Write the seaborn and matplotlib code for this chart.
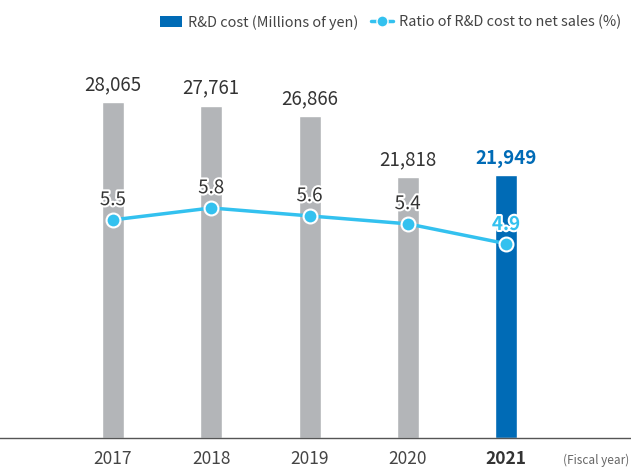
import numpy as np
import pandas as pd
import seaborn as sns
import matplotlib.pyplot as plt
import matplotlib.patheffects as pe
from matplotlib.lines import Line2D
from matplotlib.patches import Patch

years = ["2017", "2018", "2019", "2020", "2021"]
rd_cost = [28065, 27761, 26866, 21818, 21949]
rd_ratio = [5.5, 5.8, 5.6, 5.4, 4.9]

GRAY = "#b3b5b8"
BLUE = "#006bb6"
CYAN = "#33c1ef"
TEXT = "#333333"

sns.set_style("white")
plt.rcParams['font.family'] = ['Noto Sans CJK JP', 'DejaVu Sans']

df = pd.DataFrame({"year": years, "cost": rd_cost, "ratio": rd_ratio})

fig = plt.figure(figsize=(6.31, 4.68), dpi=100)
ax = fig.add_axes([0, 30 / 468, 1, 398 / 468])

colors = [GRAY] * (len(years) - 1) + [BLUE]
sns.barplot(data=df, x="year", y="cost", hue="year", palette=colors,
            width=0.224, legend=False, ax=ax, saturation=1)

ax.set_ylim(0, 33250)

for i, v in enumerate(rd_cost):
    last = i == len(years) - 1
    ax.annotate(f"{v:,}", (i, v), xytext=(0, 5), textcoords="offset points",
                ha="center", va="bottom", fontsize=13.5,
                color=BLUE if last else TEXT,
                fontweight="bold" if last else "normal")

ax2 = ax.twinx()
x_pos = np.arange(len(years))
sns.lineplot(x=x_pos, y=rd_ratio, ax=ax2, color=CYAN, linewidth=2.5,
             marker="o", markersize=10, markeredgecolor="white",
             markeredgewidth=1.5)
ax2.set_ylim(0, 398 / 39.66)
ax.set_xlim(-1.150, 5.272)

for i, v in enumerate(rd_ratio):
    last = i == len(years) - 1
    ax2.annotate(f"{v}", (i, v), xytext=(0, 7), textcoords="offset points",
                 ha="center", va="bottom", fontsize=13.5,
                 color=CYAN if last else TEXT,
                 fontweight="bold" if last else "normal",
                 path_effects=[pe.withStroke(linewidth=3, foreground="white")])

for a in (ax, ax2):
    a.set_ylabel("")
    a.set_xlabel("")
    a.set_yticks([])
    for s in ("top", "left", "right"):
        a.spines[s].set_visible(False)
ax2.spines["bottom"].set_visible(False)
ax.spines["bottom"].set_color("#555555")
ax.spines["bottom"].set_linewidth(1)

ax.set_xticks(range(len(years)))
ax.set_xticklabels(years, fontsize=12.5, color="#444444")
ax.tick_params(axis="x", length=0, pad=9)
ax.get_xticklabels()[-1].set_fontweight("bold")
ax.get_xticklabels()[-1].set_color(TEXT)

fig.text(596 / 631, 1 - 460 / 468, "(Fiscal year)", ha="center", va="center",
         fontsize=8.5, color="#666666")

handles = [
    Patch(facecolor=BLUE, edgecolor="none"),
    Line2D([0], [0], color=CYAN, linewidth=2.5, marker="o", markersize=8,
           markeredgecolor="white", markeredgewidth=1),
]
labels = ["R&D cost (Millions of yen)", "Ratio of R&D cost to net sales (%)"]
fig.legend(handles, labels, loc="upper right", bbox_to_anchor=(1.0, 0.99),
           ncol=2, frameon=False, fontsize=10.4, handlelength=1.5,
           handletextpad=0.4, columnspacing=0.9, labelcolor="#444444",
           borderaxespad=0.3)

fig.savefig("out.png", dpi=100)
